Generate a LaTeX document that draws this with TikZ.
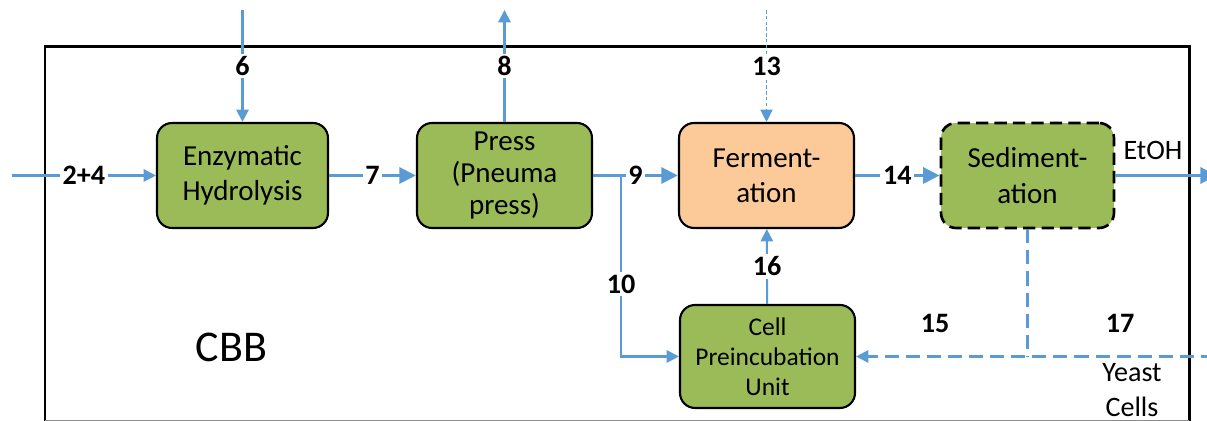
\documentclass[tikz,border=0pt]{standalone}
\usepackage{fontspec}
\setmainfont{Carlito}
\usetikzlibrary{arrows.meta}
\definecolor{flow}{HTML}{5B9BD5}
\definecolor{grn}{HTML}{9BBB59}
\definecolor{org}{HTML}{FBCA98}
\begin{document}
\begin{tikzpicture}[x=0.02cm,y=-0.02cm,
  box/.style={draw=black, line width=1.2pt, rounded corners=0.3cm, align=center,
    font=\fontsize{16.5}{20}\selectfont, inner sep=0pt, minimum height=2.1cm},
  fthin/.style={draw=flow, line width=1.15pt},
  fthick/.style={draw=flow, line width=2.2pt},
  fdash/.style={draw=flow, line width=1.2pt, dash pattern=on 8pt off 4pt},
  fdot/.style={draw=flow, line width=0.6pt, dash pattern=on 2pt off 1.3pt},
  arrowS/.style={-{Triangle[length=7pt,width=7pt]}},
  arrowL/.style={-{Triangle[length=9.5pt,width=9pt]}},
  lbl/.style={font=\bfseries\fontsize{16}{19}\selectfont, fill=white, inner sep=1.5pt},
  plain/.style={font=\fontsize{16}{19}\selectfont, align=center, inner sep=0pt}]
\clip (0,0) rectangle (1207,421);
% border
\draw[line width=1.7pt] (45,423) -- (45,47) -- (1189,47) -- (1189,423);
\draw[line width=0.6pt, black!45] (45,420.5) -- (1189,420.5);
% boxes
\node[box, fill=grn, minimum width=3.42cm] (enz) at (242.5,175.5) {Enzymatic\\Hydrolysis};
\node[box, fill=grn, minimum width=3.5cm, font=\fontsize{16.5}{18}\selectfont] (press) at (504.5,175.5) {Press\\(Pneuma\\press)};
\node[box, fill=org, minimum width=3.5cm] (ferm) at (766.5,175.5) {Ferment-\\ation};
\node[box, fill=grn, minimum width=3.46cm, dash pattern=on 7pt off 3.5pt, line width=1.5pt] (sed) at (1027.5,175.5) {Sediment-\\ation};
\node[box, fill=grn, minimum width=3.5cm, minimum height=2.06cm, font=\fontsize{14.5}{17}\selectfont] (cell) at (767.5,356.5) {Cell\\Preincubation\\Unit};
% coordinates
\coordinate (in24) at (12,175.5);
\coordinate (top6) at (242.5,10);
\coordinate (top8) at (504.5,10);
\coordinate (top13) at (766.5,10);
\coordinate (etoh) at (1217,175.5);
\coordinate (yeast) at (1215,356.5);
\coordinate (split) at (621,175.5);
% connectors
\draw[fthin, arrowS] (in24) -- node[lbl]{2+4} (enz);
\draw[fthin, arrowS] (top6) -- node[lbl]{6} (enz);
\draw[fthick, arrowL] (enz) -- node[lbl]{7} (press);
\draw[fthin, arrowS] (press) -- node[lbl]{8} (top8);
\draw[fthick, arrowL] (press) -- node[lbl]{9} (ferm);
\draw[fdot, arrowS] (top13) -- node[lbl]{13} (ferm);
\draw[fthick, arrowL] (ferm) -- node[lbl]{14} (sed);
\draw[fthick, arrowL] (sed) -- (etoh);
\draw[fthin, arrowS] (split) |- node[lbl, pos=0.3]{10} (cell);
\draw[fthin, arrowS] (cell) -- node[lbl]{16} (ferm);
\draw[fdash, arrowS] (yeast) -- (cell);
\draw[fdash] (sed) -- (sed |- yeast);
% free labels
\node[lbl] (l15) at (935,323) {15};
\node[lbl] (l17) at (1120,323) {17};
\node[plain] (etohl) at (1153,150) {EtOH};
\node[plain, font=\fontsize{16}{19.5}\selectfont] (yc) at (1132,390) {Yeast\\Cells};
\node[font=\fontsize{25}{30}\selectfont, inner sep=0pt] (cbb) at (231.5,347) {CBB};
\end{tikzpicture}
\end{document}
